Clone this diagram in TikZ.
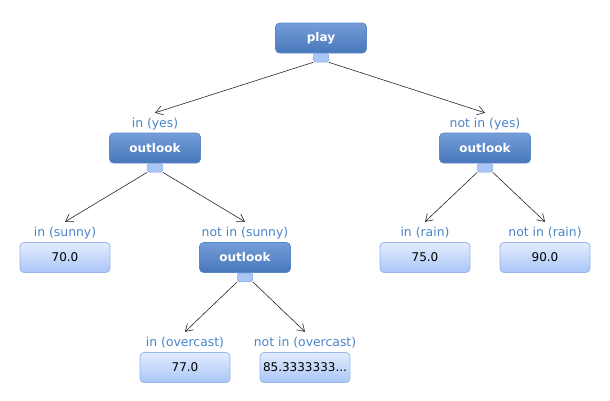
\documentclass[tikz,border=0pt]{standalone}
\usepackage{fontspec}
\setmainfont{DejaVu Sans}
\usetikzlibrary{arrows.meta}
\definecolor{intop}{HTML}{749DD9}
\definecolor{inbot}{HTML}{4777BA}
\definecolor{inedge}{HTML}{5A88C8}
\definecolor{lftop}{HTML}{E2ECFE}
\definecolor{lfbot}{HTML}{AAC6F7}
\definecolor{lfedge}{HTML}{98B6EA}
\definecolor{hdfill}{HTML}{AAC6F8}
\definecolor{hdedge}{HTML}{7FA3DD}
\definecolor{lbl}{HTML}{4A84CA}
\tikzset{
  inner/.style={rounded corners=4pt, minimum width=91pt, minimum height=30pt,
    top color=intop, bottom color=inbot, draw=inedge, line width=0.6pt,
    text=white, font=\fontsize{12}{14}\selectfont\bfseries, inner sep=0pt},
  leaf/.style={rounded corners=4pt, minimum width=90pt, minimum height=30pt,
    top color=lftop, bottom color=lfbot, draw=lfedge, line width=0.8pt,
    text=black, font=\fontsize{12}{14}\selectfont, inner sep=0pt},
  handle/.style={rounded corners=1.5pt, minimum width=15pt, minimum height=8.5pt,
    fill=hdfill, draw=hdedge, line width=0.5pt, inner sep=0pt},
  lab/.style={text=lbl, font=\fontsize{12.4}{14}\selectfont, minimum height=22pt, inner sep=0pt},
  conn/.style={draw=black!85, line width=0.6pt, -{Straight Barb[length=7pt,width=9pt,line width=0.6pt]}}
}
\begin{document}
\begin{tikzpicture}[x=1pt,y=-1pt]
\useasboundingbox (0,0) rectangle (610,400);
% nodes
\node[inner] (play) at (321,38) {play};
\node[handle, anchor=north] (hplay) at (play.south) {};

\node[lab] (lyes) at (155,124) {in (yes)};
\node[inner] (o1) at (155,148) {outlook};
\node[handle, anchor=north] (ho1) at (o1.south) {};

\node[lab] (lnyes) at (485,124) {not in (yes)};
\node[inner] (o2) at (485,148) {outlook};
\node[handle, anchor=north] (ho2) at (o2.south) {};

\node[lab] (lsun) at (65,233) {in (sunny)};
\node[leaf] (l70) at (65,257.5) {70.0};

\node[lab] (lnsun) at (245,233) {not in (sunny)};
\node[inner] (o3) at (245,257.5) {outlook};
\node[handle, anchor=north] (ho3) at (o3.south) {};

\node[lab] (lrain) at (425,233) {in (rain)};
\node[leaf] (l75) at (425,257.5) {75.0};

\node[lab] (lnrain) at (545,233) {not in (rain)};
\node[leaf] (l90) at (545,257.5) {90.0};

\node[lab] (lover) at (185,343) {in (overcast)};
\node[leaf] (l77) at (185,367.5) {77.0};

\node[lab] (lnover) at (305,343) {not in (overcast)};
\node[leaf] (l85) at (305,367.5) {85.3333333...};

% connectors
\draw[conn] (hplay.south west) -- (lyes.north);
\draw[conn] (hplay.south east) -- (lnyes.north);
\draw[conn] (ho1.south west) -- (lsun.north);
\draw[conn] (ho1.south east) -- (lnsun.north);
\draw[conn] (ho2.south west) -- (lrain.north);
\draw[conn] (ho2.south east) -- (lnrain.north);
\draw[conn] (ho3.south west) -- (lover.north);
\draw[conn] (ho3.south east) -- (lnover.north);
\end{tikzpicture}
\end{document}
